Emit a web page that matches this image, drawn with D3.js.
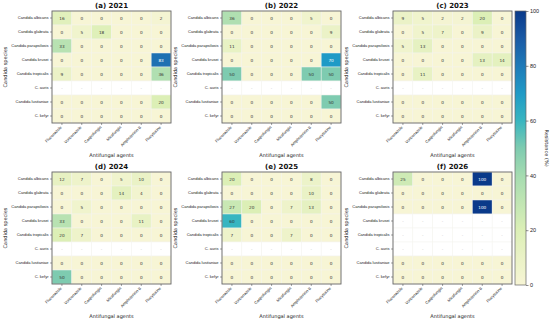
<!DOCTYPE html>
<html>
<head>
<meta charset="utf-8">
<script src="https://cdn.jsdelivr.net/npm/d3@7"></script>
<style>
body{margin:0;background:#fff;}
svg{display:block;font-family:"DejaVu Sans",sans-serif;}
</style>
</head>
<body>
<svg id="chart" width="550" height="323"></svg>
<script>
const species = ["Candida albicans","Candida glabrata","Candida parapsilosis","Candida krusei","Candida tropicalis","C. auris","Candida lusitaniae","C. kefyr"];
const agents = ["Fluconazole","Voriconazole","Caspofungin","Micafungin","Amphotericin B","Flucytosine"];
const panelTitles = ["(a) 2021","(b) 2022","(c) 2023","(d) 2024","(e) 2025","(f) 2026"];
const colorTicks = [0,20,40,60,80,100];
const N = null;
const v2021 = [[16,0,0,0,0,2],[0,5,18,0,0,0],[33,0,0,0,0,0],[0,0,0,0,0,83],[9,0,0,0,0,36],[N,N,N,N,N,N],[0,0,0,0,0,20],[0,0,0,0,0,0]];
const v2022 = [[36,0,0,0,5,0],[0,0,0,0,0,9],[11,0,0,0,0,0],[0,0,0,0,0,70],[50,0,0,0,50,50],[N,N,N,N,N,N],[0,0,0,0,0,50],[0,0,0,0,0,0]];
const v2023 = [[9,5,2,2,20,0],[0,5,7,0,9,0],[5,13,0,0,0,0],[0,0,0,0,13,14],[0,11,0,0,0,0],[N,N,N,N,N,N],[0,0,0,0,0,0],[0,0,0,0,0,0]];
const v2024 = [[12,7,0,5,10,0],[0,0,0,14,4,0],[0,5,0,0,0,0],[33,0,0,0,11,0],[20,7,0,0,0,0],[N,N,N,N,N,N],[0,0,0,0,0,0],[50,0,0,0,0,0]];
const v2025 = [[20,0,0,0,8,0],[0,0,0,0,10,0],[27,20,0,7,13,0],[60,0,0,0,0,0],[7,0,0,7,0,0],[N,N,N,N,N,N],[0,0,0,0,0,0],[0,0,0,0,0,0]];
const v2026 = [[25,0,0,0,100,0],[0,0,0,0,0,0],[0,0,0,0,100,0],[N,N,N,N,N,N],[N,N,N,N,N,N],[N,N,N,N,N,N],[0,0,0,0,0,0],[0,0,0,0,0,0]];
const panels = [v2021,v2022,v2023,v2024,v2025,v2026];

// colour ramp
const rampStops = [0,20,40,50,60,70,80,90,100];
const rampColors = ["#f7f5d5","#dcefb6","#a5dbb0","#7ecbb0","#38b5c0","#1f9ac6","#1e7ab8","#1a5aa5","#0a3a8a"];
const color = d3.scaleLinear().domain(rampStops).range(rampColors).interpolate(d3.interpolateRgb).clamp(true);

const svg = d3.select("#chart");
const colX = [52,222,393], rowY = [11,172], W = 119, H = 112;

panels.forEach((vals,pi)=>{
  const x0 = colX[pi%3], y0 = rowY[Math.floor(pi/3)];
  const g = svg.append("g").attr("transform",`translate(${x0},${y0})`);
  const x = d3.scaleBand().domain(agents).range([0,W]);
  const y = d3.scaleBand().domain(species).range([0,H]);
  const cells = [];
  vals.forEach((row,ri)=>row.forEach((v,ci)=>cells.push({s:species[ri],a:agents[ci],v})));
  g.selectAll("rect.c").data(cells).enter().append("rect")
    .attr("x",d=>x(d.a)).attr("y",d=>y(d.s))
    .attr("width",x.bandwidth()).attr("height",y.bandwidth())
    .attr("fill",d=>d.v==null?"#ffffff":color(d.v))
    .attr("stroke","#f4f4ee").attr("stroke-width",0.5);
  g.selectAll("text.v").data(cells).enter().append("text")
    .attr("x",d=>x(d.a)+x.bandwidth()/2).attr("y",d=>y(d.s)+y.bandwidth()/2)
    .attr("text-anchor","middle").attr("dominant-baseline","central")
    .attr("font-size",4.2)
    .attr("fill",d=>d.v==null?"#bbbbbb":(d.v>65?"#ffffff":"#333333"))
    .text(d=>d.v==null?"-":d.v);
  g.append("rect").attr("width",W).attr("height",H).attr("fill","none")
    .attr("stroke","#666").attr("stroke-width",0.9);
  const ya = g.append("g").call(d3.axisLeft(y).tickSize(2).tickPadding(1.5));
  ya.select(".domain").remove();
  ya.selectAll("text").attr("font-size",4).attr("fill","#222");
  ya.selectAll("line").attr("stroke","#444").attr("stroke-width",0.5);
  const xa = g.append("g").attr("transform",`translate(0,${H})`).call(d3.axisBottom(x).tickSize(2).tickPadding(1));
  xa.select(".domain").remove();
  xa.selectAll("line").attr("stroke","#444").attr("stroke-width",0.5);
  xa.selectAll("text").attr("font-size",4).attr("fill","#222")
    .attr("text-anchor","end").attr("dy","0.3em")
    .attr("transform","translate(0,3) rotate(-45)").attr("y",0).attr("x",-1);
  g.append("text").attr("x",W/2).attr("y",-3).attr("text-anchor","middle")
    .attr("font-size",7).attr("font-weight","bold").attr("fill","#111").text(panelTitles[pi]);
  g.append("text").attr("x",W/2).attr("y",H+34).attr("text-anchor","middle")
    .attr("font-size",5).attr("fill","#222").text("Antifungal agents");
  g.append("text").attr("transform",`translate(-45,${H/2}) rotate(-90)`)
    .attr("text-anchor","middle").attr("font-size",5).attr("fill","#222").text("Candida species");
});

// colorbar
const cbX = 515, cbW = 11, cbTop = 11, cbBot = 285;
const cy = d3.scaleLinear().domain([0,100]).range([cbBot,cbTop]);
const defs = svg.append("defs");
const grad = defs.append("linearGradient").attr("id","cb").attr("x1",0).attr("y1",1).attr("x2",0).attr("y2",0);
d3.range(0,1.001,0.025).forEach(t=>grad.append("stop").attr("offset",t).attr("stop-color",color(t*100)));
svg.append("rect").attr("x",cbX).attr("y",cbTop).attr("width",cbW).attr("height",cbBot-cbTop)
  .attr("fill","url(#cb)").attr("stroke","#666").attr("stroke-width",0.7);
const ca = svg.append("g").attr("transform",`translate(${cbX+cbW},0)`)
  .call(d3.axisRight(cy).tickValues(colorTicks).tickSize(2.5).tickPadding(1.5));
ca.select(".domain").remove();
ca.selectAll("text").attr("font-size",5.5).attr("fill","#222");
ca.selectAll("line").attr("stroke","#444").attr("stroke-width",0.6);
svg.append("text").attr("transform",`translate(545,${(cbTop+cbBot)/2}) rotate(90)`)
  .attr("text-anchor","middle").attr("font-size",5).attr("fill","#222").text("Resistance (%)");
</script>
</body>
</html>
